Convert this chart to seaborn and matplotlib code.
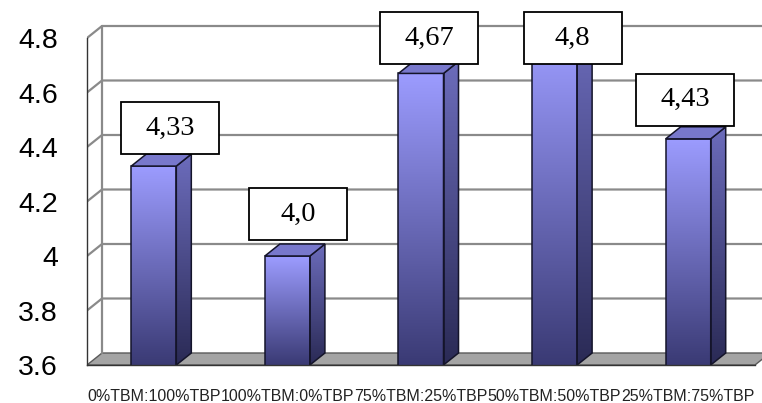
import numpy as np
import pandas as pd
import matplotlib
matplotlib.use("Agg")
import matplotlib.pyplot as plt
import seaborn as sns
from matplotlib.patches import Polygon, Rectangle
from matplotlib.colors import LinearSegmentedColormap
from matplotlib.transforms import IdentityTransform

categories = ["0%TBM:100%TBP", "100%TBM:0%TBP", "75%TBM:25%TBP",
              "50%TBM:50%TBP", "25%TBM:75%TBP"]
values = [4.33, 4.0, 4.67, 4.8, 4.43]
value_labels = ["4,33", "4,0", "4,67", "4,8", "4,43"]
y_ticks = [3.6, 3.8, 4.0, 4.2, 4.4, 4.6, 4.8]
y_tick_labels = ["3.6", "3.8", "4", "4.2", "4.4", "4.6", "4.8"]

# callout box centre, in pixels, relative to the front top of each bar
label_offsets = [(16, 38), (11, 42), (8, 35.5), (18, 0), (-3, 39)]

W, H, DPI = 762, 403, 100
sns.set_style("white")
plt.rcParams["font.family"] = ["Liberation Sans", "DejaVu Sans"]

fig = plt.figure(figsize=(W / DPI, H / DPI), dpi=DPI)
# plot area: x from 87 px to the right edge, y from the top edge to 365 px
ax = fig.add_axes([87 / W, (H - 365) / H, (W - 87) / W, 365 / H])

df = pd.DataFrame({"mix": categories, "score": values})
sns.barplot(data=df, x="mix", y="score", width=0.337, color="#9999ff",
            ax=ax, zorder=4)
bars = list(ax.patches)

px_per_x = 133.6
px_per_y = 272.5
x_lo = -0.5
x_hi = len(categories) - 0.5
y_lo, y_hi = y_ticks[0], y_ticks[-1]

# depth offset of the pseudo-3D look
dx = 15 / px_per_x
dy = 12 / px_per_y

# floor
floor = Polygon([(x_lo, y_lo), (x_hi, y_lo), (x_hi + dx, y_lo + dy),
                 (x_lo + dx, y_lo + dy)], closed=True,
                facecolor="#a4a4a4", edgecolor="#5a5a5a", lw=1.0, zorder=1)
ax.add_patch(floor)

# back wall grid lines with the diagonal links to the value axis
grid_c = "#8a8a8a"
for yv in y_ticks[1:]:
    ax.plot([x_lo, x_lo + dx, x_hi + dx + 0.2], [yv, yv + dy, yv + dy],
            color=grid_c, lw=1.6, zorder=1.5, solid_capstyle="butt")
ax.plot([x_lo + dx, x_lo + dx], [y_lo + dy, y_hi + dy], color=grid_c,
        lw=1.6, zorder=1.5)

front_cmap = LinearSegmentedColormap.from_list("front", ["#9c9cff", "#3a3a74"])
side_cmap = LinearSegmentedColormap.from_list("side", ["#6c6cbc", "#2a2a55"])
grad = np.linspace(0, 1, 256).reshape(-1, 1)
edge_c = "#14142a"

for patch in bars:
    x0 = patch.get_x()
    w = patch.get_width()
    top = patch.get_height()
    x1 = x0 + w
    # front face
    ax.imshow(grad, cmap=front_cmap, extent=(x0, x1, y_lo, top),
              aspect="auto", zorder=3.5, interpolation="bilinear")
    patch.set_facecolor("none")
    patch.set_edgecolor(edge_c)
    patch.set_linewidth(1.1)
    # side face
    side = Polygon([(x1, y_lo), (x1 + dx, y_lo + dy), (x1 + dx, top + dy),
                    (x1, top)], closed=True, facecolor="none",
                   edgecolor=edge_c, lw=1.1, zorder=4)
    ax.add_patch(side)
    im = ax.imshow(grad, cmap=side_cmap, extent=(x1, x1 + dx, y_lo, top + dy),
                   aspect="auto", zorder=3.5, interpolation="bilinear")
    im.set_clip_path(side)
    # top face
    cap = Polygon([(x0, top), (x1, top), (x1 + dx, top + dy),
                   (x0 + dx, top + dy)], closed=True, facecolor="#7878cc",
                  edgecolor=edge_c, lw=1.1, zorder=4)
    ax.add_patch(cap)

ax.set_xlim(x_lo, x_lo + (W - 87) / px_per_x)
ax.set_ylim(y_lo, y_lo + 365 / px_per_y)

# axes lines and ticks
for s in ("top", "right"):
    ax.spines[s].set_visible(False)
ax.spines["left"].set_bounds(y_lo, y_hi)
ax.spines["bottom"].set_bounds(x_lo, x_hi)
for s in ("left", "bottom"):
    ax.spines[s].set_color("#333333")
    ax.spines[s].set_linewidth(1.0)
    ax.spines[s].set_zorder(5)

ax.set_yticks(y_ticks, y_tick_labels)
ax.tick_params(axis="y", length=7, width=1.0, color="#333333", pad=14,
               labelsize=20.5, labelcolor="black")
ax.set_xticks(range(len(categories)), categories)
ax.set_xticks(np.arange(x_lo, x_hi + 0.01, 1.0), minor=True)
ax.tick_params(axis="x", which="major", length=0, pad=17, labelsize=11.5,
               labelcolor="#222222")
ax.tick_params(axis="x", which="minor", length=5, width=1.0, color="#333333")
ax.set_xlabel("")
ax.set_ylabel("")
ax.grid(False)

# value callouts
box_w, box_h = 98, 52
for i, patch in enumerate(bars):
    xc = patch.get_x() + patch.get_width() / 2
    top = patch.get_height()
    px, py = ax.transData.transform((xc, top))
    ox, oy = label_offsets[i]
    cx, cy = px + ox, py + oy
    fig.add_artist(Rectangle((cx - box_w / 2, cy - box_h / 2), box_w, box_h,
                             transform=IdentityTransform(), facecolor="white",
                             edgecolor="black", lw=1.3, zorder=10))
    fig.text(cx / W, cy / H, value_labels[i], ha="center", va="center",
             fontsize=20.5, family=["Liberation Serif", "DejaVu Serif"],
             color="black", zorder=11)

fig.savefig("out.png", dpi=DPI)
